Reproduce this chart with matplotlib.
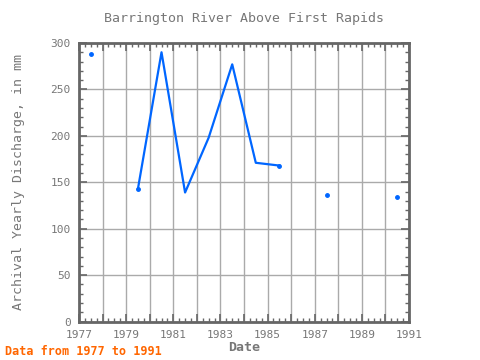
import numpy as np
import matplotlib
matplotlib.use('Agg')
import matplotlib.pyplot as plt
from matplotlib.ticker import MultipleLocator

# 数据
years = [1977.5, 1978.5, 1979.5, 1980.5, 1981.5, 1982.5, 1983.5, 1984.5,
         1985.5, 1986.5, 1987.5, 1988.5, 1989.5, 1990.5]
discharge = [288, np.nan, 143, 290, 139, 198, 277, 171,
             168, np.nan, 136, np.nan, np.nan, 134]
xticks = [1977, 1979, 1981, 1983, 1985, 1987, 1989, 1991]

plt.rcParams['font.family'] = ['DejaVu Sans Mono']
grey = '#777777'
blue = '#0066ff'

fig = plt.figure(figsize=(4.8, 3.6), dpi=100)
ax = fig.add_axes([0.1646, 0.1067, 0.6875, 0.7739])

y = np.array(discharge, dtype=float)
x = np.array(years)
ax.plot(x, y, color=blue, lw=1.6, zorder=3)
# 孤立点和线段端点
for i in range(len(y)):
    prev_nan = i == 0 or np.isnan(y[i - 1])
    next_nan = i == len(y) - 1 or np.isnan(y[i + 1])
    if not np.isnan(y[i]) and (prev_nan or next_nan):
        ax.plot(x[i], y[i], 'o', color=blue, ms=2.5, zorder=3)

ax.set_xlim(1977, 1991)
ax.set_ylim(0, 300)
ax.xaxis.set_minor_locator(MultipleLocator(0.25))
ax.yaxis.set_major_locator(MultipleLocator(50))
ax.yaxis.set_minor_locator(MultipleLocator(10))
ax.set_xticks(np.arange(1977, 1992, 1))
ax.set_xticklabels([str(v) if v in xticks else '' for v in range(1977, 1992)])
ax.grid(True, which='major', color='#aaaaaa', lw=1)
ax.set_axisbelow(True)
ax.tick_params(which='both', direction='in', top=True, right=True,
               colors='#666666', labelcolor=grey, labelsize=8, pad=6)
ax.tick_params(which='major', length=6, width=1.2)
ax.tick_params(which='minor', length=3, width=1)
for s in ax.spines.values():
    s.set_color('#666666')
    s.set_linewidth(2)

ax.set_title('Barrington River Above First Rapids', color=grey, fontsize=9.5, pad=15)
ax.set_xlabel('Date', color=grey, fontsize=9.5, fontweight='bold', labelpad=1)
ax.set_ylabel('Archival Yearly Discharge, in mm', color=grey, fontsize=9.5, labelpad=18)
fig.text(0.01, 0.015, 'Data from 1977 to 1991', color='#ff6600', fontsize=8.5,
         fontweight='bold')

plt.savefig('out.png', dpi=100)
